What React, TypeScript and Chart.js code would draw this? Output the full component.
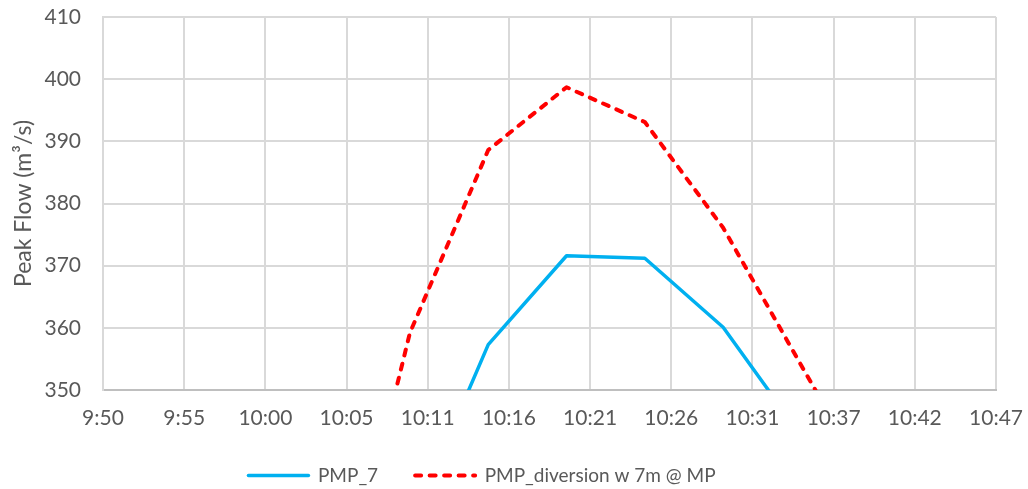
import React, { useEffect, useRef } from "react";
import { Chart, registerables } from "chart.js";

Chart.register(...registerables);

// Tick labels of the time axis (Excel major unit ≈ 5.184 min)
const xTickLabels = ["9:50", "9:55", "10:00", "10:05", "10:11", "10:16", "10:21", "10:26", "10:31", "10:37", "10:42", "10:47"];
const tickStepMinutes = 5.184;

// Series: x = minutes after 9:50, y = peak flow (m³/s)
const pmp7Minutes = [19.6, 24.6, 29.6, 34.6, 39.6, 44.6];
const pmp7Values = [328.0, 357.3, 371.6, 371.2, 360.1, 342.6];

const diversionMinutes = [14.6, 19.6, 24.6, 29.6, 34.6, 39.6, 44.6, 49.6];
const diversionValues = [308.0, 359.2, 388.6, 398.7, 393.1, 376.1, 353.9, 332.0];

const yTicks = [350, 360, 370, 380, 390, 400, 410];

const FONT = "Lato, 'Open Sans', sans-serif";
const TEXT = "#595959";

const legendShift = {
  id: "legendShift",
  afterLayout(chart: any) {
    const l = chart.legend;
    if (l) {
      l.left -= 16;
      l.right -= 16;
    }
  },
};

export default function App() {
  const ref = useRef<HTMLCanvasElement | null>(null);

  useEffect(() => {
    if (!ref.current) return;
    const chart = new Chart(ref.current, {
      type: "line",
      data: {
        datasets: [
          {
            label: "PMP_7",
            data: pmp7Minutes.map((x, i) => ({ x, y: pmp7Values[i] })),
            borderColor: "#00B0F0",
            backgroundColor: "#00B0F0",
            borderWidth: 3.5,
            pointRadius: 0,
            tension: 0,
            borderCapStyle: "round",
            borderJoinStyle: "round",
          },
          {
            label: "PMP_diversion w 7m @ MP",
            data: diversionMinutes.map((x, i) => ({ x, y: diversionValues[i] })),
            borderColor: "#FF0000",
            backgroundColor: "#FF0000",
            borderWidth: 4,
            borderDash: [6, 8.5],
            borderCapStyle: "round",
            borderJoinStyle: "round",
            pointRadius: 0,
            tension: 0,
          },
        ],
      },
      plugins: [legendShift],
      options: {
        animation: false,
        responsive: false,
        layout: { padding: { top: 17, right: 32, left: 0, bottom: 0 } },
        plugins: {
          legend: {
            position: "bottom",
            labels: {
              usePointStyle: true,
              pointStyle: "line",
              pointStyleWidth: 60,
              padding: 37,
              color: TEXT,
              font: { family: FONT, size: 19 },
              generateLabels: (c: any) =>
                c.data.datasets.map((ds: any, i: number) => ({
                  text: ds.label,
                  fillStyle: ds.borderColor,
                  strokeStyle: ds.borderColor,
                  lineWidth: ds.borderWidth,
                  lineDash: ds.borderDash || [],
                  lineCap: "round",
                  lineJoin: "round",
                  pointStyle: "line",
                  fontColor: TEXT,
                  hidden: false,
                  datasetIndex: i,
                })),
            },
          },
          tooltip: { enabled: false },
        },
        scales: {
          x: {
            type: "linear",
            min: 0,
            max: (xTickLabels.length - 1) * tickStepMinutes,
            afterBuildTicks: (scale: any) => {
              scale.ticks = xTickLabels.map((_, i) => ({ value: i * tickStepMinutes }));
            },
            afterFit: (scale: any) => {
              scale.height = 39;
            },
            ticks: {
              autoSkip: false,
              maxRotation: 0,
              padding: 0,
              color: TEXT,
              font: { family: FONT, size: 21 },
              callback: (_v: any, i: number) => xTickLabels[i],
            },
            grid: { color: "#D9D9D9", lineWidth: 2, drawTicks: true, tickLength: 16, tickColor: "rgba(0,0,0,0)" },
            border: { color: "#BFBFBF", width: 2 },
          },
          y: {
            min: 350,
            max: 410,
            afterBuildTicks: (scale: any) => {
              scale.ticks = yTicks.map((v) => ({ value: v }));
            },
            afterFit: (scale: any) => {
              scale.width = 103;
            },
            ticks: {
              padding: 0,
              color: TEXT,
              font: { family: FONT, size: 21 },
            },
            grid: { color: "#D9D9D9", lineWidth: 2, drawTicks: true, tickLength: 22, tickColor: "rgba(0,0,0,0)" },
            border: { color: "#D9D9D9", width: 2 },
            title: {
              display: true,
              text: "Peak Flow (m³/s)",
              color: TEXT,
              font: { family: FONT, size: 23 },
              padding: { top: 10, bottom: 0 },
            },
          },
        },
      },
    });
    return () => chart.destroy();
  }, []);

  return (
    <div style={{ position: "absolute", left: 0, top: 0, width: 1028, height: 489, overflow: "hidden", background: "#fff" }}>
      <canvas ref={ref} width={1028} height={495} style={{ display: "block" }} />
    </div>
  );
}
